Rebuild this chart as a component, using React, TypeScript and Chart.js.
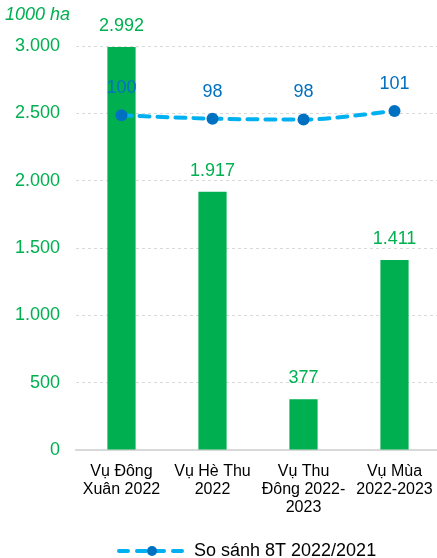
import React, { useEffect, useRef } from "react";
import { Chart, registerables } from "chart.js";

Chart.register(...registerables);

const categories: string[][] = [
  ["Vụ Đông", "Xuân 2022"],
  ["Vụ Hè Thu", "2022"],
  ["Vụ Thu", "Đông 2022-", "2023"],
  ["Vụ Mùa", "2022-2023"],
];
const areaValues = [2992, 1917, 377, 1411];
const compareValues = [99.6, 98.4, 98.1, 101.1];
const compareLabel = "So sánh 8T 2022/2021";
const yTicks = [0, 500, 1000, 1500, 2000, 2500, 3000];
const unitLabel = "1000 ha";

const GREEN = "#00B050";
const LIGHT_BLUE = "#00B0F0";
const DARK_BLUE = "#0070C0";
const FONT = "'Liberation Sans', Arial, sans-serif";

const fmt = (v: number) =>
  Math.round(v)
    .toString()
    .replace(/\B(?=(\d{3})+(?!\d))/g, ".");

const zeroPad = (scale: any) => {
  scale.paddingLeft = 0;
  scale.paddingRight = 0;
  scale.paddingTop = 0;
  scale.paddingBottom = 0;
};

const labelsPlugin = {
  id: "customLabels",
  afterDatasetsDraw(chart: any) {
    const ctx = chart.ctx;
    ctx.save();
    const barMeta = chart.getDatasetMeta(0);
    ctx.font = `18px ${FONT}`;
    ctx.textAlign = "center";
    ctx.textBaseline = "middle";
    ctx.fillStyle = GREEN;
    barMeta.data.forEach((el: any, i: number) => {
      ctx.fillText(fmt(areaValues[i]), el.x, el.y - 21);
    });
    const lineMeta = chart.getDatasetMeta(1);
    ctx.fillStyle = DARK_BLUE;
    lineMeta.data.forEach((el: any, i: number) => {
      ctx.fillText(String(Math.round(compareValues[i])), el.x, el.y - 27);
    });
    ctx.font = `italic 18px ${FONT}`;
    ctx.fillStyle = GREEN;
    ctx.textAlign = "left";
    ctx.fillText(unitLabel, 5, 15);
    const ly = 551;
    ctx.strokeStyle = LIGHT_BLUE;
    ctx.lineWidth = 4;
    ctx.lineCap = "round";
    ctx.setLineDash([9, 9]);
    ctx.beginPath();
    ctx.moveTo(119, ly);
    ctx.lineTo(185, ly);
    ctx.stroke();
    ctx.setLineDash([]);
    ctx.fillStyle = DARK_BLUE;
    ctx.beginPath();
    ctx.arc(152, ly, 5, 0, Math.PI * 2);
    ctx.fill();
    ctx.font = `18px ${FONT}`;
    ctx.fillStyle = "#000000";
    ctx.textAlign = "left";
    ctx.fillText(compareLabel, 194, ly);
    ctx.restore();
  },
};

export default function App() {
  const ref = useRef<HTMLCanvasElement | null>(null);
  useEffect(() => {
    if (!ref.current) return;
    const chart = new Chart(ref.current, {
      type: "bar",
      data: {
        labels: categories as any,
        datasets: [
          {
            type: "bar",
            label: "Diện tích",
            data: areaValues,
            backgroundColor: GREEN,
            yAxisID: "y",
            barPercentage: 1,
            categoryPercentage: 0.31,
            order: 2,
          },
          {
            type: "line",
            label: compareLabel,
            data: compareValues,
            borderColor: LIGHT_BLUE,
            borderWidth: 4,
            borderDash: [10, 8],
            borderCapStyle: "round",
            cubicInterpolationMode: "monotone",
            pointRadius: 6,
            pointBackgroundColor: DARK_BLUE,
            pointBorderColor: DARK_BLUE,
            pointBorderWidth: 0,
            yAxisID: "y2",
            order: 1,
          } as any,
        ],
      },
      options: {
        animation: false,
        responsive: false,
        maintainAspectRatio: false,
        layout: { padding: { top: 46, left: 0, right: 0, bottom: 0 } },
        plugins: {
          legend: { display: false },
          tooltip: { enabled: false },
        },
        scales: {
          x: {
            grid: { display: false, drawTicks: false },
            border: { display: true, color: "#D9D9D9", width: 2 },
            ticks: {
              color: "#000000",
              font: { family: FONT, size: 16, lineHeight: 1.15 },
              padding: 12,
              maxRotation: 0,
              autoSkip: false,
            },
            afterFit(scale: any) {
              scale.height = 108;
              zeroPad(scale);
            },
          },
          y: {
            min: 0,
            max: 3000,
            afterBuildTicks(scale: any) {
              scale.ticks = yTicks.map((v) => ({ value: v }));
            },
            grid: {
              color: "#D9D9D9",
              lineWidth: 1,
              drawTicks: false,
            },
            border: { display: false, dash: [3, 3] },
            ticks: {
              color: GREEN,
              font: { family: FONT, size: 18 },
              padding: 16,
              callback: (v: any) => fmt(Number(v)),
            },
            afterFit(scale: any) {
              scale.width = 76;
              zeroPad(scale);
            },
          },
          y2: {
            display: false,
            position: "right",
            min: -19.7,
            max: 124.3,
            afterFit(scale: any) {
              scale.width = 0;
              zeroPad(scale);
            },
          },
        },
      } as any,
      plugins: [labelsPlugin],
    });
    return () => chart.destroy();
  }, []);
  return (
    <div
      style={{
        position: "absolute",
        left: 0,
        top: 0,
        width: 437,
        height: 558,
        overflow: "hidden",
        background: "#ffffff",
      }}
    >
      <canvas ref={ref} width={446} height={558} style={{ display: "block" }} />
    </div>
  );
}
